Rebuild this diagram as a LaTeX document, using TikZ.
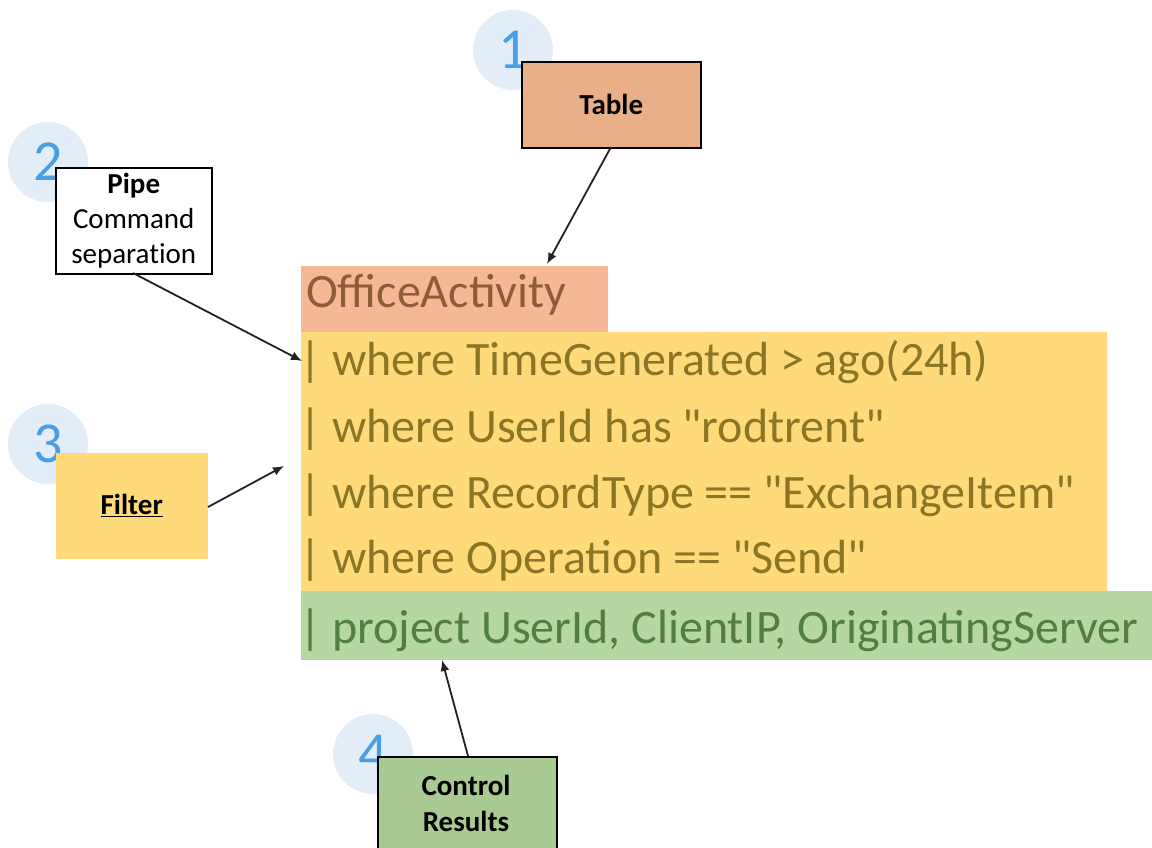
\documentclass[tikz,border=0pt]{standalone}
\usepackage{fontspec}
\setmainfont{Carlito}[Ligatures=NoCommon]
\newfontfamily\codefont{Carlito}
\usetikzlibrary{arrows.meta}
\definecolor{numblue}{HTML}{4A9EE3}
\definecolor{numfill}{HTML}{E3EDF8}
\definecolor{tablefill}{HTML}{E9AF89}
\definecolor{bandorange}{HTML}{F5B896}
\definecolor{bandyellow}{HTML}{FFDA7B}
\definecolor{bandgreen}{HTML}{B6D6A2}
\definecolor{ctrlfill}{HTML}{A9CB93}
\definecolor{txtorange}{HTML}{8E5C3A}
\definecolor{txtyellow}{HTML}{8C7626}
\definecolor{txtgreen}{HTML}{527F40}
\definecolor{arrowgray}{HTML}{222222}
\tikzset{
  numdisc/.style={circle, fill=numfill, minimum size=80pt, inner sep=0pt,
    text=numblue, font=\fontsize{58}{58}\selectfont},
  labelbox/.style={draw=black, line width=1.5pt, inner sep=0pt, align=center,
    font=\fontsize{29}{35}\selectfont},
  band/.style={inner sep=0pt, anchor=north west},
  codeline/.style={inner sep=0pt, anchor=base west, font=\codefont\fontsize{48}{48}\selectfont},
  pointer/.style={draw=arrowgray, line width=1.8pt, -{Latex[length=11pt,width=9pt]}}
}
\begin{document}
\begin{tikzpicture}[x=1pt, y=-1pt]
\useasboundingbox (0,0) rectangle (1152,847);

% coloured bands behind the query text
\node[band, fill=bandorange, minimum width=307pt, minimum height=66pt] (bandtbl) at (301,266) {};
\node[band, fill=bandyellow, minimum width=806pt, minimum height=259pt] (bandwhere) at (301,332) {};
\node[band, fill=bandgreen, minimum width=851pt, minimum height=69pt] (bandproj) at (301,591) {};

% the query itself
\node[codeline, text=txtorange] (q0) at (306,307) {OfficeActivity};
\node[codeline, text=txtyellow] (q1) at (299,375) {| where TimeGenerated > ago(24h)};
\node[codeline, text=txtyellow] (q2) at (299,442) {| where UserId has "rodtrent"};
\node[codeline, text=txtyellow] (q3) at (299,508) {| where RecordType == "ExchangeItem"};
\node[codeline, text=txtyellow] (q4) at (299,573) {| where Operation == "Send"};
\node[codeline, text=txtgreen] (q5) at (299,643) {| project UserId, ClientIP, OriginatingServer};

% numbered discs (drawn first so the boxes overlap them)
\node[numdisc] (n1) at (513,50) {1};
\node[numdisc] (n2) at (48,162) {2};
\node[numdisc] (n3) at (48,444) {3};
\node[numdisc] (n4) at (373,754) {4};

% callout boxes
\node[labelbox, fill=tablefill, minimum width=179pt, minimum height=86pt, anchor=north west]
  (table) at (521,61) {\textbf{Table}};
\node[labelbox, fill=white, minimum width=156pt, minimum height=106pt, anchor=north west]
  (pipe) at (55,167) {\textbf{Pipe}\\Command\\separation};
\node[labelbox, draw=none, fill=bandyellow, minimum width=152pt, minimum height=106pt, anchor=north west]
  (filter) at (55,452) {\textbf{\underline{Filter}}};
\node[labelbox, fill=ctrlfill, minimum width=179pt, minimum height=110pt, anchor=north west]
  (control) at (377,756) {};
\node[align=center, inner sep=0pt, font=\fontsize{29}{36}\selectfont] (controltxt) at (466,803)
  {\textbf{Control}\\\textbf{Results}};

% arrow end points on the query
\coordinate (tblin) at (547,264);
\coordinate (pipein) at (302,361);
\coordinate (filterin) at (284,466);
\coordinate (projin) at (442,660);
\coordinate (tblout) at (611,147);
\coordinate (pipeout) at (133,273);
\coordinate (filterout) at (208,507);
\coordinate (ctrlout) at (468,756);

\draw[pointer] (tblout) -- (tblin);
\draw[pointer] (pipeout) -- (pipein);
\draw[pointer] (filterout) -- (filterin);
\draw[pointer] (ctrlout) -- (projin);
\end{tikzpicture}
\end{document}
